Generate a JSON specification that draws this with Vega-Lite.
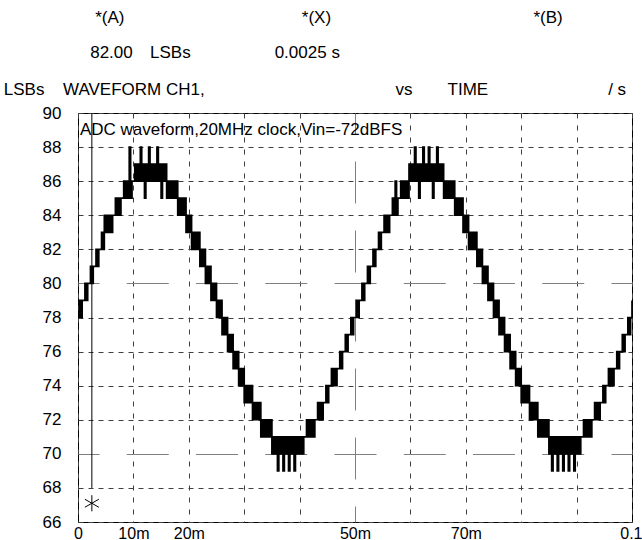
{
  "$schema": "https://vega.github.io/schema/vega-lite/v6.json",
  "width": 554,
  "height": 409,
  "autosize": {"type": "none"},
  "padding": {"left": 78, "top": 113, "right": 10, "bottom": 18},
  "background": "white",
  "config": {
    "view": {"stroke": "black", "strokeWidth": 1},
    "font": "Liberation Sans",
    "text": {"font": "Liberation Sans"}
  },
  "datasets": {
    "wave": [
      {"t":0,"v":78},{"t":0.25,"v":79},{"t":0.5,"v":78},{"t":0.75,"v":79},{"t":1,"v":79},{"t":1.25,"v":80},{"t":1.5,"v":79},{"t":1.75,"v":80},
      {"t":2,"v":80},{"t":2.25,"v":81},{"t":2.5,"v":80},{"t":2.75,"v":81},{"t":3,"v":81},{"t":3.25,"v":82},{"t":3.5,"v":81},{"t":3.75,"v":82},
      {"t":4,"v":82},{"t":4.25,"v":83},{"t":4.5,"v":82},{"t":4.75,"v":84},{"t":5,"v":83},{"t":5.25,"v":84},{"t":5.5,"v":83},{"t":5.75,"v":84},
      {"t":6,"v":83},{"t":6.25,"v":84},{"t":6.5,"v":84},{"t":6.75,"v":85},{"t":7,"v":84},{"t":7.25,"v":85},{"t":7.5,"v":84},{"t":7.75,"v":85},
      {"t":8,"v":85},{"t":8.25,"v":86},{"t":8.5,"v":85},{"t":8.75,"v":86},{"t":9,"v":85},{"t":9.25,"v":88},{"t":9.5,"v":85},{"t":9.75,"v":86},
      {"t":10,"v":86},{"t":10.25,"v":87},{"t":10.5,"v":86},{"t":10.75,"v":87},{"t":11,"v":86},{"t":11.25,"v":88},{"t":11.5,"v":86},{"t":11.75,"v":87},
      {"t":12,"v":85},{"t":12.25,"v":87},{"t":12.5,"v":86},{"t":12.75,"v":88},{"t":13,"v":86},{"t":13.25,"v":87},{"t":13.5,"v":86},{"t":13.75,"v":87},
      {"t":14,"v":86},{"t":14.25,"v":88},{"t":14.5,"v":86},{"t":14.75,"v":87},{"t":15,"v":85},{"t":15.25,"v":87},{"t":15.5,"v":86},{"t":15.75,"v":87},
      {"t":16,"v":85},{"t":16.25,"v":86},{"t":16.5,"v":85},{"t":16.75,"v":86},{"t":17,"v":85},{"t":17.25,"v":86},{"t":17.5,"v":85},{"t":17.75,"v":86},
      {"t":18,"v":84},{"t":18.25,"v":85},{"t":18.5,"v":84},{"t":18.75,"v":85},{"t":19,"v":84},{"t":19.25,"v":85},{"t":19.5,"v":83},{"t":19.75,"v":84},
      {"t":20,"v":83},{"t":20.25,"v":84},{"t":20.5,"v":82},{"t":20.75,"v":83},{"t":21,"v":82},{"t":21.25,"v":83},{"t":21.5,"v":82},{"t":21.75,"v":83},
      {"t":22,"v":81},{"t":22.25,"v":82},{"t":22.5,"v":81},{"t":22.75,"v":82},{"t":23,"v":80},{"t":23.25,"v":81},{"t":23.5,"v":80},{"t":23.75,"v":81},
      {"t":24,"v":79},{"t":24.25,"v":80},{"t":24.5,"v":79},{"t":24.75,"v":80},{"t":25,"v":78},{"t":25.25,"v":79},{"t":25.5,"v":78},{"t":25.75,"v":79},
      {"t":26,"v":77},{"t":26.25,"v":78},{"t":26.5,"v":77},{"t":26.75,"v":78},{"t":27,"v":76},{"t":27.25,"v":77},{"t":27.5,"v":76},{"t":27.75,"v":77},
      {"t":28,"v":75},{"t":28.25,"v":76},{"t":28.5,"v":75},{"t":28.75,"v":76},{"t":29,"v":74},{"t":29.25,"v":75},{"t":29.5,"v":74},{"t":29.75,"v":75},
      {"t":30,"v":73},{"t":30.25,"v":74},{"t":30.5,"v":73},{"t":30.75,"v":74},{"t":31,"v":73},{"t":31.25,"v":74},{"t":31.5,"v":72},{"t":31.75,"v":73},
      {"t":32,"v":72},{"t":32.25,"v":73},{"t":32.5,"v":72},{"t":32.75,"v":73},{"t":33,"v":71},{"t":33.25,"v":72},{"t":33.5,"v":71},{"t":33.75,"v":72},
      {"t":34,"v":71},{"t":34.25,"v":72},{"t":34.5,"v":71},{"t":34.75,"v":72},{"t":35,"v":70},{"t":35.25,"v":71},{"t":35.5,"v":70},{"t":35.75,"v":71},
      {"t":36,"v":69},{"t":36.25,"v":71},{"t":36.5,"v":70},{"t":36.75,"v":71},{"t":37,"v":69},{"t":37.25,"v":71},{"t":37.5,"v":70},{"t":37.75,"v":71},
      {"t":38,"v":69},{"t":38.25,"v":71},{"t":38.5,"v":70},{"t":38.75,"v":71},{"t":39,"v":69},{"t":39.25,"v":71},{"t":39.5,"v":70},{"t":39.75,"v":71},
      {"t":40,"v":70},{"t":40.25,"v":71},{"t":40.5,"v":70},{"t":40.75,"v":71},{"t":41,"v":71},{"t":41.25,"v":72},{"t":41.5,"v":71},{"t":41.75,"v":72},
      {"t":42,"v":71},{"t":42.25,"v":72},{"t":42.5,"v":71},{"t":42.75,"v":72},{"t":43,"v":72},{"t":43.25,"v":73},{"t":43.5,"v":72},{"t":43.75,"v":73},
      {"t":44,"v":72},{"t":44.25,"v":73},{"t":44.5,"v":73},{"t":44.75,"v":74},{"t":45,"v":73},{"t":45.25,"v":74},{"t":45.5,"v":74},{"t":45.75,"v":75},
      {"t":46,"v":74},{"t":46.25,"v":75},{"t":46.5,"v":74},{"t":46.75,"v":75},{"t":47,"v":75},{"t":47.25,"v":76},{"t":47.5,"v":75},{"t":47.75,"v":76},
      {"t":48,"v":76},{"t":48.25,"v":77},{"t":48.5,"v":76},{"t":48.75,"v":77},{"t":49,"v":77},{"t":49.25,"v":78},{"t":49.5,"v":77},{"t":49.75,"v":78},
      {"t":50,"v":78},{"t":50.25,"v":79},{"t":50.5,"v":78},{"t":50.75,"v":79},{"t":51,"v":79},{"t":51.25,"v":80},{"t":51.5,"v":79},{"t":51.75,"v":80},
      {"t":52,"v":80},{"t":52.25,"v":81},{"t":52.5,"v":80},{"t":52.75,"v":81},{"t":53,"v":81},{"t":53.25,"v":82},{"t":53.5,"v":81},{"t":53.75,"v":82},
      {"t":54,"v":82},{"t":54.25,"v":83},{"t":54.5,"v":82},{"t":54.75,"v":83},{"t":55,"v":83},{"t":55.25,"v":84},{"t":55.5,"v":83},{"t":55.75,"v":84},
      {"t":56,"v":83},{"t":56.25,"v":84},{"t":56.5,"v":84},{"t":56.75,"v":85},{"t":57,"v":84},{"t":57.25,"v":86},{"t":57.5,"v":84},{"t":57.75,"v":85},
      {"t":58,"v":85},{"t":58.25,"v":86},{"t":58.5,"v":85},{"t":58.75,"v":86},{"t":59,"v":85},{"t":59.25,"v":86},{"t":59.5,"v":85},{"t":59.75,"v":87},
      {"t":60,"v":86},{"t":60.25,"v":87},{"t":60.5,"v":86},{"t":60.75,"v":88},{"t":61,"v":86},{"t":61.25,"v":87},{"t":61.5,"v":85},{"t":61.75,"v":87},
      {"t":62,"v":86},{"t":62.25,"v":88},{"t":62.5,"v":86},{"t":62.75,"v":87},{"t":63,"v":86},{"t":63.25,"v":88},{"t":63.5,"v":86},{"t":63.75,"v":87},
      {"t":64,"v":85},{"t":64.25,"v":87},{"t":64.5,"v":86},{"t":64.75,"v":88},{"t":65,"v":86},{"t":65.25,"v":87},{"t":65.5,"v":86},{"t":65.75,"v":87},
      {"t":66,"v":85},{"t":66.25,"v":86},{"t":66.5,"v":85},{"t":66.75,"v":86},{"t":67,"v":85},{"t":67.25,"v":86},{"t":67.5,"v":85},{"t":67.75,"v":86},
      {"t":68,"v":84},{"t":68.25,"v":85},{"t":68.5,"v":84},{"t":68.75,"v":85},{"t":69,"v":84},{"t":69.25,"v":85},{"t":69.5,"v":83},{"t":69.75,"v":84},
      {"t":70,"v":83},{"t":70.25,"v":84},{"t":70.5,"v":82},{"t":70.75,"v":83},{"t":71,"v":82},{"t":71.25,"v":83},{"t":71.5,"v":82},{"t":71.75,"v":83},
      {"t":72,"v":81},{"t":72.25,"v":82},{"t":72.5,"v":81},{"t":72.75,"v":82},{"t":73,"v":80},{"t":73.25,"v":81},{"t":73.5,"v":80},{"t":73.75,"v":81},
      {"t":74,"v":79},{"t":74.25,"v":80},{"t":74.5,"v":79},{"t":74.75,"v":80},{"t":75,"v":78},{"t":75.25,"v":79},{"t":75.5,"v":78},{"t":75.75,"v":79},
      {"t":76,"v":77},{"t":76.25,"v":78},{"t":76.5,"v":77},{"t":76.75,"v":78},{"t":77,"v":76},{"t":77.25,"v":77},{"t":77.5,"v":76},{"t":77.75,"v":77},
      {"t":78,"v":75},{"t":78.25,"v":76},{"t":78.5,"v":75},{"t":78.75,"v":76},{"t":79,"v":74},{"t":79.25,"v":75},{"t":79.5,"v":74},{"t":79.75,"v":75},
      {"t":80,"v":73},{"t":80.25,"v":74},{"t":80.5,"v":73},{"t":80.75,"v":74},{"t":81,"v":73},{"t":81.25,"v":74},{"t":81.5,"v":72},{"t":81.75,"v":73},
      {"t":82,"v":72},{"t":82.25,"v":73},{"t":82.5,"v":72},{"t":82.75,"v":73},{"t":83,"v":71},{"t":83.25,"v":72},{"t":83.5,"v":71},{"t":83.75,"v":72},
      {"t":84,"v":71},{"t":84.25,"v":72},{"t":84.5,"v":71},{"t":84.75,"v":72},{"t":85,"v":70},{"t":85.25,"v":71},{"t":85.5,"v":69},{"t":85.75,"v":71},
      {"t":86,"v":70},{"t":86.25,"v":71},{"t":86.5,"v":69},{"t":86.75,"v":71},{"t":87,"v":70},{"t":87.25,"v":71},{"t":87.5,"v":69},{"t":87.75,"v":71},
      {"t":88,"v":70},{"t":88.25,"v":71},{"t":88.5,"v":69},{"t":88.75,"v":71},{"t":89,"v":70},{"t":89.25,"v":71},{"t":89.5,"v":69},{"t":89.75,"v":71},
      {"t":90,"v":70},{"t":90.25,"v":71},{"t":90.5,"v":70},{"t":90.75,"v":71},{"t":91,"v":71},{"t":91.25,"v":72},{"t":91.5,"v":71},{"t":91.75,"v":72},
      {"t":92,"v":71},{"t":92.25,"v":72},{"t":92.5,"v":71},{"t":92.75,"v":72},{"t":93,"v":72},{"t":93.25,"v":73},{"t":93.5,"v":72},{"t":93.75,"v":73},
      {"t":94,"v":72},{"t":94.25,"v":73},{"t":94.5,"v":73},{"t":94.75,"v":74},{"t":95,"v":73},{"t":95.25,"v":74},{"t":95.5,"v":74},{"t":95.75,"v":75},
      {"t":96,"v":74},{"t":96.25,"v":75},{"t":96.5,"v":74},{"t":96.75,"v":75},{"t":97,"v":75},{"t":97.25,"v":76},{"t":97.5,"v":75},{"t":97.75,"v":76},
      {"t":98,"v":76},{"t":98.25,"v":77},{"t":98.5,"v":76},{"t":98.75,"v":77},{"t":99,"v":77},{"t":99.25,"v":78},{"t":99.5,"v":77},{"t":99.75,"v":78},
      {"t":100,"v":79}
    ],
    "marker": [
      {"t": 2.5, "top": 90, "bottom": 68, "star": 67.1}
    ],
    "notes": [
      {"label": "*(A)", "t": 3.1, "v": 95.6},
      {"label": "*(X)", "t": 40.4, "v": 95.6},
      {"label": "*(B)", "t": 82.2, "v": 95.6},
      {"label": "82.00", "t": 2.2, "v": 93.5},
      {"label": "LSBs", "t": 13.0, "v": 93.5},
      {"label": "0.0025 s", "t": 35.5, "v": 93.5},
      {"label": "LSBs", "t": -13.4, "v": 91.35},
      {"label": "WAVEFORM CH1,", "t": -2.7, "v": 91.35},
      {"label": "vs", "t": 57.3, "v": 91.35},
      {"label": "TIME", "t": 66.7, "v": 91.35},
      {"label": "/ s", "t": 95.7, "v": 91.35},
      {"label": "ADC waveform,20MHz clock,Vin=-72dBFS", "t": 0.35, "v": 89.0}
    ]
  },
  "layer": [
    {
      "data": {"name": "wave"},
      "mark": {"type": "line", "color": "black", "strokeWidth": 1.7, "interpolate": "step-after"},
      "encoding": {
        "x": {
          "field": "t", "type": "quantitative",
          "scale": {"domain": [0, 100], "nice": false, "zero": false},
          "axis": {
            "title": null,
            "values": [0, 10, 20, 30, 40, 50, 60, 70, 80, 90, 100],
            "tickCount": 20,
            "labelExpr": "datum.value == 0 ? '0' : datum.value == 10 ? '10m' : datum.value == 20 ? '20m' : datum.value == 50 ? '50m' : datum.value == 70 ? '70m' : datum.value == 100 ? '0.1' : ''",
            "labelFontSize": 16,
            "labelColor": "black",
            "labelPadding": 3,
            "labelFlush": false,
            "labelOverlap": false,
            "labelAlign": {"condition": {"test": "datum.value === 100", "value": "right"}, "value": "center"},
            "labelOffset": {"condition": {"test": "datum.value === 100", "value": 10}, "value": 0},
            "ticks": false,
            "domain": false,
            "grid": true,
            "gridColor": {"condition": {"test": "datum.value === 50", "value": "#808080"}, "value": "#404040"},
            "gridDash": {"condition": {"test": "datum.value === 50", "value": [42, 27]}, "value": [5, 7]},
            "gridDashOffset": {"condition": {"test": "datum.value === 50", "value": 21}, "value": 0},
            "gridWidth": 1
          }
        },
        "y": {
          "field": "v", "type": "quantitative",
          "scale": {"domain": [66, 90], "nice": false, "zero": false},
          "axis": {
            "title": null,
            "values": [66, 68, 70, 72, 74, 76, 78, 80, 82, 84, 86, 88, 90],
            "tickCount": 20,
            "labelFontSize": 17,
            "labelColor": "black",
            "labelPadding": 17,
            "labelFlush": false,
            "labelOverlap": false,
            "ticks": false,
            "domain": false,
            "grid": true,
            "gridColor": {"condition": {"test": "datum.value === 70 || datum.value === 80", "value": "#808080"}, "value": "#404040"},
            "gridDash": {"condition": {"test": "datum.value === 70 || datum.value === 80", "value": [42, 27.25]}, "value": [5, 5]},
            "gridDashOffset": {"condition": {"test": "datum.value === 70 || datum.value === 80", "value": 21}, "value": 0},
            "gridWidth": 1
          }
        }
      }
    },
    {
      "data": {"name": "marker"},
      "mark": {"type": "rule", "color": "black", "strokeWidth": 1},
      "encoding": {
        "x": {"field": "t", "type": "quantitative"},
        "y": {"field": "top", "type": "quantitative"},
        "y2": {"field": "bottom"}
      }
    },
    {
      "data": {"name": "marker"},
      "mark": {"type": "point", "shape": "M0,-1L0,1M-0.87,-0.5L0.87,0.5M-0.87,0.5L0.87,-0.5", "filled": false, "color": "black", "size": 260, "strokeWidth": 1, "opacity": 1},
      "encoding": {
        "x": {"field": "t", "type": "quantitative"},
        "y": {"field": "star", "type": "quantitative"}
      }
    },
    {
      "data": {"name": "notes"},
      "mark": {"type": "text", "align": "left", "baseline": "middle", "fontSize": 17, "color": "black", "clip": false},
      "encoding": {
        "x": {"field": "t", "type": "quantitative"},
        "y": {"field": "v", "type": "quantitative"},
        "text": {"field": "label"}
      }
    }
  ]
}
